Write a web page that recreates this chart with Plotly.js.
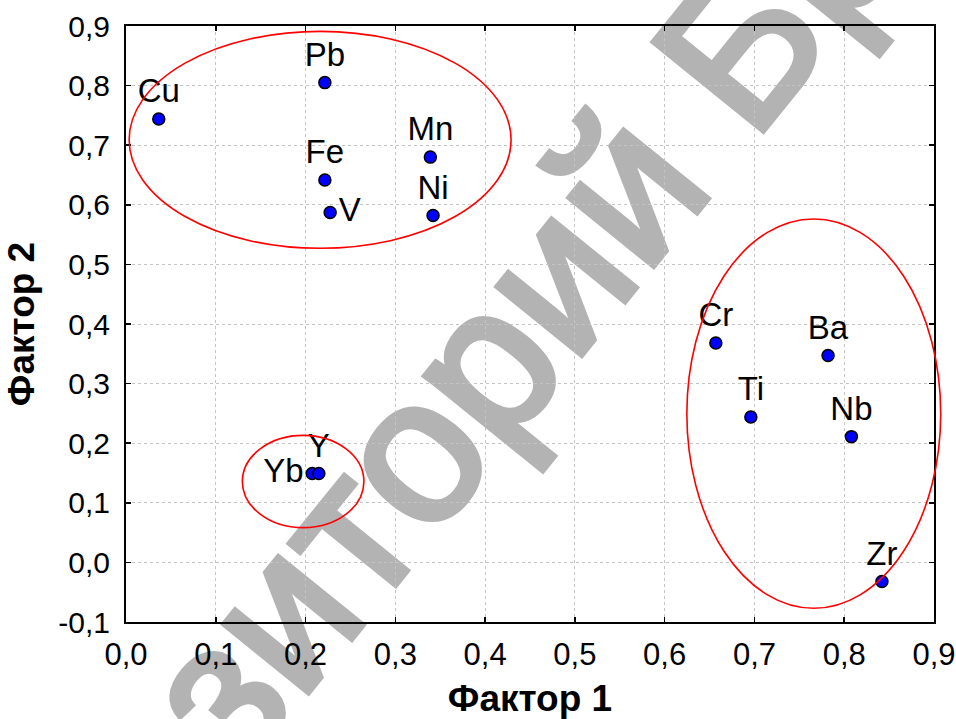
<!DOCTYPE html>
<html>
<head>
<meta charset="utf-8">
<script src="https://cdn.plot.ly/plotly-3.0.1.min.js"></script>
<style>
  html, body { margin: 0; padding: 0; background: #ffffff; }
  #wrap { position: relative; width: 956px; height: 719px; overflow: hidden; background: #ffffff; }
  #wm { position: absolute; left: 449px; top: 405px; width: 0; height: 0;
        transform-origin: 0 0; transform: rotate(-51deg); z-index: 0; }
  #wm span { position: absolute; left: 0; top: 0; white-space: nowrap;
        transform: translate(-50%, -50%); font-family: "Liberation Sans", Arial, sans-serif;
        font-size: 205px; color: #b3b3b3; line-height: 1;
        -webkit-text-stroke: 6px #b3b3b3; }
  #chart { position: absolute; left: 0; top: 0; width: 956px; height: 719px; z-index: 1; }
</style>
</head>
<body>
<div id="wrap">
  <div id="wm"><span>Репозиторий БрГУ</span></div>
  <div id="chart"></div>
</div>
<script>
// ---- data ----
const elements = ["Cu", "Pb", "Fe", "V", "Mn", "Ni", "Cr", "Ba", "Ti", "Nb", "Zr", "Yb", "Y"];
const factor1  = [0.0365, 0.2215, 0.2215, 0.2274, 0.339, 0.342, 0.657, 0.782, 0.696, 0.808, 0.842, 0.2074, 0.2148];
const factor2  = [0.744, 0.805, 0.6415, 0.587, 0.680, 0.582, 0.368, 0.347, 0.244, 0.211, -0.032, 0.149, 0.149];
const labelPos = ["top center", "top center", "top center", "middle right", "top center", "top center",
                  "top center", "top center", "top center", "top center", "top center", "middle left", "top center"];

// cluster ellipses: centre and half-axes in factor units
const ellCx = [0.2162, 0.7661, 0.1973];
const ellCy = [0.709, 0.2496, 0.1358];
const ellRx = [0.2127, 0.1414, 0.0677];
const ellRy = [0.182, 0.3266, 0.0774];

const xTickVals = [0, 0.1, 0.2, 0.3, 0.4, 0.5, 0.6, 0.7, 0.8, 0.9];
const xTickText = ["0,0", "0,1", "0,2", "0,3", "0,4", "0,5", "0,6", "0,7", "0,8", "0,9"];
const yTickVals = [-0.1, 0, 0.1, 0.2, 0.3, 0.4, 0.5, 0.6, 0.7, 0.8, 0.9];
const yTickText = ["-0,1", "0,0", "0,1", "0,2", "0,3", "0,4", "0,5", "0,6", "0,7", "0,8", "0,9"];

const xRange = [0, 0.9];
const yRange = [-0.1, 0.9];

// ---- build ----
const px = v => (v - xRange[0]) / (xRange[1] - xRange[0]);
const py = v => (v - yRange[0]) / (yRange[1] - yRange[0]);

const shapes = ellCx.map((cx, i) => ({
  type: "circle", xref: "paper", yref: "paper", layer: "above",
  x0: px(cx - ellRx[i]), x1: px(cx + ellRx[i]),
  y0: py(ellCy[i] - ellRy[i]), y1: py(ellCy[i] + ellRy[i]),
  line: { color: "#ff0000", width: 1.6 }, fillcolor: "rgba(0,0,0,0)"
}));

const FONT = "Liberation Sans, Arial, sans-serif";

const trace = {
  type: "scatter", mode: "markers+text",
  x: factor1, y: factor2, text: elements, textposition: labelPos,
  textfont: { family: FONT, size: 33, color: "#000000" },
  marker: { color: "#0000ff", size: 12, line: { color: "#000000", width: 1.5 } },
  cliponaxis: false, hoverinfo: "none"
};

const axisCommon = {
  showline: true, linecolor: "#000000", linewidth: 2, mirror: "ticks",
  ticks: "inside", ticklen: 5, tickwidth: 1.5, tickcolor: "#000000",
  showgrid: true, gridcolor: "#c4c4c4", gridwidth: 1, griddash: "dot",
  zeroline: false, tickmode: "array"
};

const layout = {
  width: 956, height: 719,
  margin: { l: 126, r: 22, t: 26, b: 97 },
  paper_bgcolor: "rgba(0,0,0,0)", plot_bgcolor: "rgba(0,0,0,0)",
  showlegend: false,
  xaxis: Object.assign({}, axisCommon, {
    range: xRange, tickvals: xTickVals, ticktext: xTickText,
    tickfont: { family: FONT, size: 31, color: "#000000" },
    ticklabelstandoff: 4,
    title: { text: "<b>Фактор 1</b>", standoff: 16,
             font: { family: FONT, size: 37, color: "#000000" } }
  }),
  yaxis: Object.assign({}, axisCommon, {
    range: yRange, tickvals: yTickVals, ticktext: yTickText,
    tickfont: { family: FONT, size: 30, color: "#000000" },
    ticklabelstandoff: 8,
    title: { text: "<b>Фактор 2</b>", standoff: 12,
             font: { family: FONT, size: 37, color: "#000000" } }
  }),
  shapes: shapes
};

Plotly.newPlot("chart", [trace], layout, { displayModeBar: false, staticPlot: true });
</script>
</body>
</html>
